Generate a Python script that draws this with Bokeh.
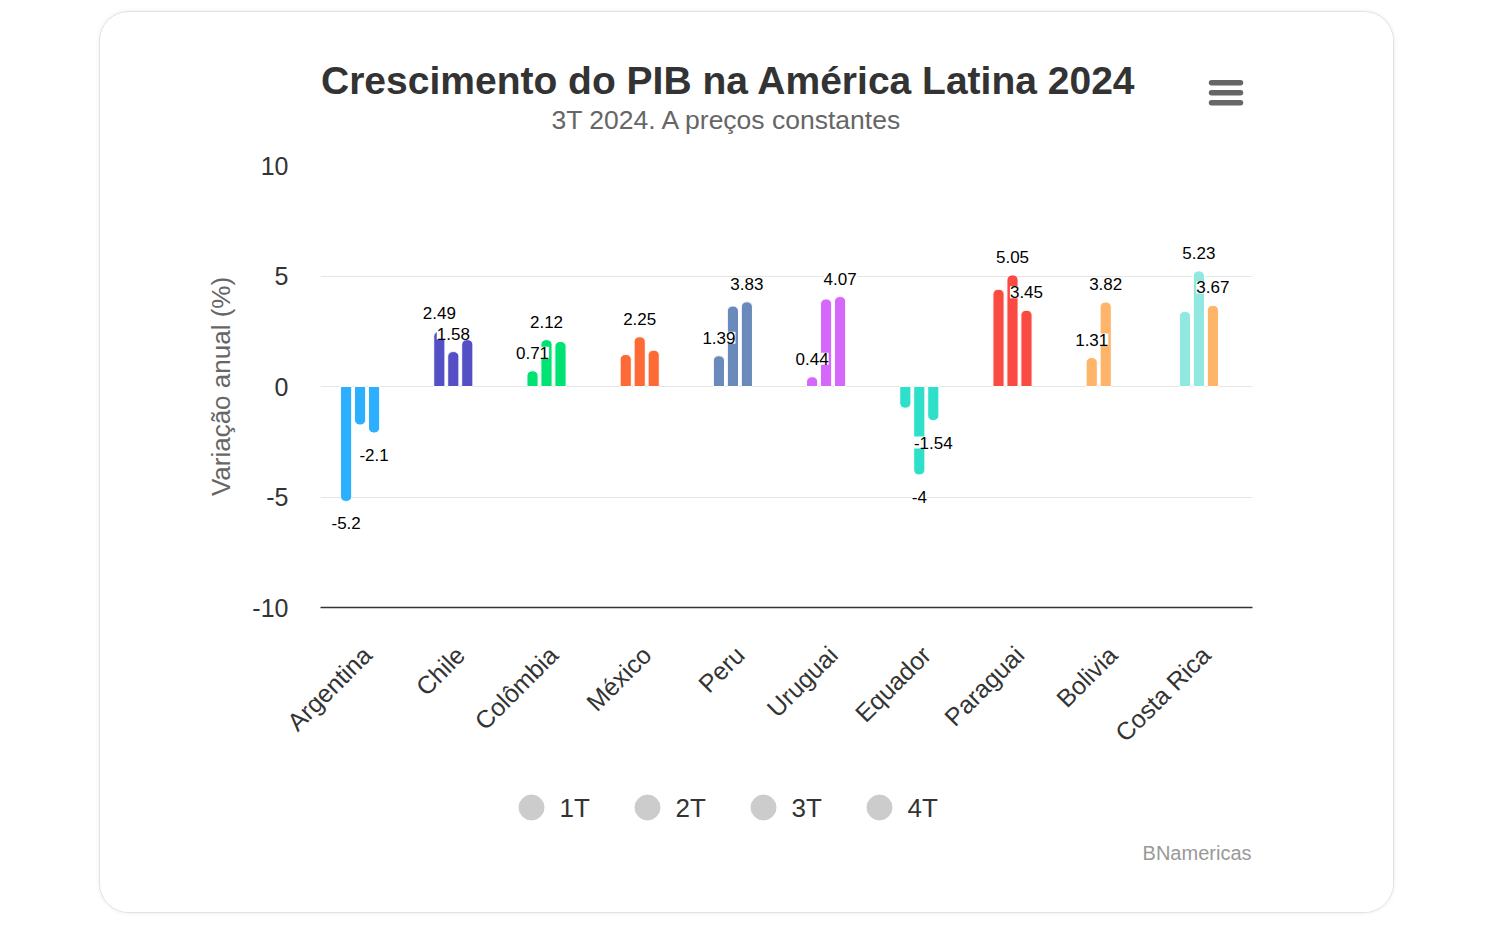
import math
from bokeh.plotting import figure
from bokeh.layouts import column
from bokeh.models import FactorRange, ColumnDataSource, FixedTicker, Range1d
from bokeh.transform import dodge
from bokeh.core.properties import value
from bokeh.embed import file_html
from bokeh.resources import INLINE

# ---------------- data ----------------
countries = ["Argentina", "Chile", "Colômbia", "México", "Peru",
             "Uruguai", "Equador", "Paraguai", "Bolivia", "Costa Rica"]
series_names = ["1T", "2T", "3T", "4T"]

t1 = [-5.2, 2.49, 0.71, 1.45, 1.39, 0.44, -0.98, 4.4, 1.31, 3.4]
t2 = [-1.74, 1.58, 2.12, 2.25, 3.64, 3.96, -4.0, 5.05, 3.82, 5.23]
t3 = [-2.1, 2.12, 2.04, 1.64, 3.83, 4.07, -1.54, 3.45, None, 3.67]
t4 = [None] * 10

# which data labels are visible in the original chart
show1 = [True, True, True, False, True, True, False, False, True, False]
show2 = [False, True, True, True, False, False, True, True, True, True]
show3 = [True, False, False, False, True, True, True, True, False, True]
show4 = [False] * 10

palette = ["#2caffe", "#544fc5", "#00e272", "#fe6a35", "#6b8abc",
           "#d568fb", "#2ee0ca", "#fa4b42", "#feb56a", "#91e8e1"]
colors1 = palette
colors2 = palette
colors3 = palette[:9] + ["#feb56a"]
colors4 = palette

series_values = [t1, t2, t3, t4]
series_show = [show1, show2, show3, show4]
series_colors = [colors1, colors2, colors3, colors4]
offsets = [-0.225, -0.075, 0.075, 0.225]

y_ticks = [-10, -5, 0, 5, 10]
y_tick_labels = {-10: "-10", -5: "-5", 0: "0", 5: "5", 10: "10"}

title_text = "Crescimento do PIB na América Latina 2024"
subtitle_text = "3T 2024. A preços constantes"
credits_text = "BNamericas"
legend_color = "#cccccc"

FONT = "Liberation Sans"
W = 1293
# horizontal extent of the aligned plot frames (page pixels)
FX0, FX1 = 320, 1252


def blank_fig(top, bottom):
    """Figure whose data coordinates equal page pixel coordinates."""
    f = figure(width=W, height=bottom - top, x_range=Range1d(FX0, FX1),
               y_range=Range1d(bottom, top), min_border=0,
               x_axis_location=None, y_axis_location=None,
               output_backend="svg", toolbar_location=None)
    f.outline_line_color = None
    f.background_fill_color = "white"
    f.border_fill_color = "white"
    f.grid.visible = False
    return f


# ---------------- header: title, subtitle, menu icon ----------------
head = blank_fig(12, 140)
head.text(x=[728], y=[79.5], text=[title_text], text_align="center",
          text_baseline="middle", text_font=value(FONT), text_font_size="39px",
          text_font_style="bold", text_color="#333333")
head.text(x=[727], y=[119.5], text=[subtitle_text], text_align="center",
          text_baseline="middle", text_font=value(FONT), text_font_size="26.5px",
          text_color="#666666")
menu_y = [82.3, 92.3, 102.3]
head.segment(x0=[1211] * 3, x1=[1240] * 3, y0=menu_y, y1=menu_y,
             line_width=5.5, line_color="#666666", line_cap="round")

# ---------------- main chart ----------------
p = figure(x_range=FactorRange(*countries, range_padding=0),
           y_range=(-10, 10), title=None,
           width=W, height=640,
           min_border_left=220, min_border_right=141,
           min_border_top=25, min_border_bottom=173,
           output_backend="svg", toolbar_location=None)
p.outline_line_color = None
p.background_fill_color = "white"
p.border_fill_color = "white"

p.xgrid.grid_line_color = None
p.ygrid.grid_line_color = "#e6e6e6"
p.ygrid.grid_line_width = 1

p.yaxis.ticker = FixedTicker(ticks=y_ticks)
p.yaxis.major_label_overrides = y_tick_labels
p.yaxis.axis_line_color = None
p.yaxis.major_tick_line_color = None
p.yaxis.minor_tick_line_color = None
p.yaxis.major_tick_out = 0
p.yaxis.major_tick_in = 0
p.yaxis.major_label_standoff = 32
p.yaxis.major_label_text_font = FONT
p.yaxis.major_label_text_font_size = "25px"
p.yaxis.major_label_text_color = "#333333"
p.yaxis.axis_label = "Variação anual (%)"
p.yaxis.axis_label_text_font = FONT
p.yaxis.axis_label_text_font_size = "26px"
p.yaxis.axis_label_text_font_style = "normal"
p.yaxis.axis_label_text_color = "#666666"
p.yaxis.axis_label_standoff = 13

p.xaxis.axis_line_color = "#333333"
p.xaxis.axis_line_width = 1.5
p.xaxis.major_tick_line_color = None
p.xaxis.minor_tick_line_color = None
p.xaxis.major_tick_out = 0
p.xaxis.major_tick_in = 0
p.xaxis.major_label_orientation = math.pi / 4
p.xaxis.major_label_standoff = 43
p.xaxis.major_label_text_font = FONT
p.xaxis.major_label_text_font_size = "25px"
p.xaxis.major_label_text_color = "#333333"

label_sets = []
for vals, shows, cols, off in zip(series_values, series_show, series_colors, offsets):
    pos = dict(country=[], top=[], bottom=[], color=[])
    neg = dict(country=[], top=[], bottom=[], color=[])
    lab_pos = dict(country=[], y=[], text=[])
    lab_neg = dict(country=[], y=[], text=[])
    for c, v, s, col in zip(countries, vals, shows, cols):
        if v is None:
            continue
        if v >= 0:
            pos["country"].append(c); pos["top"].append(v)
            pos["bottom"].append(0); pos["color"].append(col)
            if s:
                lab_pos["country"].append(c); lab_pos["y"].append(v)
                lab_pos["text"].append(f"{v:g}")
        else:
            neg["country"].append(c); neg["top"].append(0)
            neg["bottom"].append(v); neg["color"].append(col)
            if s:
                lab_neg["country"].append(c); lab_neg["y"].append(v)
                lab_neg["text"].append(f"{v:g}")
    xd = dodge("country", off, range=p.x_range)
    if pos["country"]:
        p.vbar(x=xd, top="top", bottom="bottom", width=0.12,
               source=ColumnDataSource(pos), fill_color="color",
               line_color="white", line_width=1, border_radius=(5, 5, 0, 0))
    if neg["country"]:
        p.vbar(x=xd, top="top", bottom="bottom", width=0.12,
               source=ColumnDataSource(neg), fill_color="color",
               line_color="white", line_width=1, border_radius=(0, 0, 5, 5))
    label_sets.append((xd, lab_pos, -18))
    label_sets.append((xd, lab_neg, 22))

for xd, lab, yoff in label_sets:
    if lab["country"]:
        p.text(x=xd, y="y", text="text", source=ColumnDataSource(lab),
               text_align="center", text_baseline="middle", y_offset=yoff,
               text_font=value(FONT), text_font_size="17px", text_color="#000000",
               background_fill_color="white")

# ---------------- footer: legend + credits ----------------
foot = blank_fig(780, 912)
leg_x = [531 + 116 * i for i in range(len(series_names))]
leg_src = ColumnDataSource(dict(x=leg_x, y=[807] * len(series_names),
                                tx=[x + 28 for x in leg_x], name=series_names))
foot.scatter(x="x", y="y", source=leg_src, marker="circle", size=25,
             fill_color=legend_color, line_color=legend_color)
foot.text(x="tx", y="y", text="name", source=leg_src, text_align="left",
          text_baseline="middle", text_font=value(FONT), text_font_size="26px",
          text_color="#333333")
foot.text(x=[1251], y=[852], text=[credits_text], text_align="right",
          text_baseline="middle", text_font=value(FONT), text_font_size="20px",
          text_color="#999999")

layout = column(head, p, foot, spacing=0)
layout.styles = {"margin-left": "99px", "margin-top": "11px",
                 "border": "1px solid #e2e2e2", "border-radius": "30px",
                 "box-shadow": "0 0 4px rgba(0,0,0,0.08)", "overflow": "hidden",
                 "background": "white"}

open("out.html", "w").write(file_html(layout, INLINE))
